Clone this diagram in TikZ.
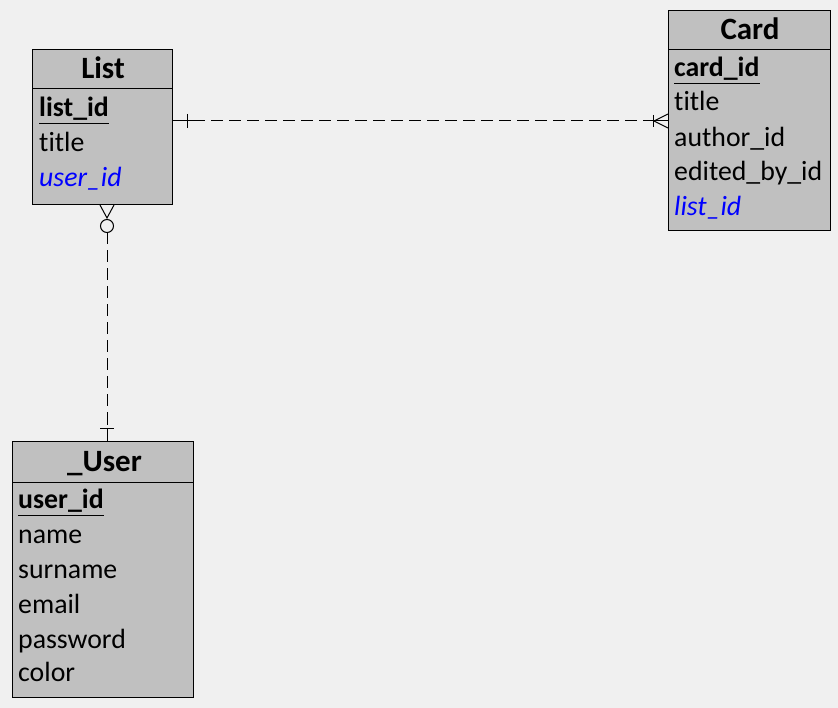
\documentclass[tikz,border=0pt]{standalone}
\usepackage{fontspec}
\setmainfont{Carlito}[Ligatures=NoCommon]
\usetikzlibrary{calc}
\definecolor{bg}{HTML}{F0F0F0}
\definecolor{boxfill}{HTML}{C0C0C0}
\definecolor{fkblue}{RGB}{0,0,255}
\tikzset{
  tbl/.style={draw=black, line width=1pt, fill=boxfill, anchor=north west, inner sep=0pt},
  ttl/.style={anchor=base, inner sep=0pt, font=\fontsize{31}{34}\selectfont\bfseries},
  fld/.style={anchor=base west, inner sep=0pt, font=\fontsize{27.8}{31}\selectfont},
  pk/.style={fld, font=\fontsize{27.8}{31}\selectfont\bfseries},
  fk/.style={fld, font=\fontsize{27.8}{31}\selectfont\itshape, text=fkblue},
  rel/.style={draw=black, line width=1pt, dash pattern=on 12pt off 6pt},
  plainline/.style={draw=black, line width=1pt}
}
\begin{document}
\begin{tikzpicture}[x=1pt,y=-1pt]
\fill[bg] (0,0) rectangle (838,708);
\useasboundingbox (0,0) rectangle (838,708);

% List table
\node[tbl, minimum width=140pt, minimum height=155pt] (list) at (32,49) {};
\draw[plainline] ($(list.north west)+(0,40)$) -- ($(list.north east)+(0,40)$);
\node[ttl] (listT) at (103,79) {List};
\node[pk] (listA) at (39,116.7) {list\_id};
\draw[plainline] ($(listA.base west)+(0,6.5)$) -- ($(listA.base east)+(0,6.5)$);
\node[fld] (listB) at (39,151.3) {title};
\node[fk] (listC) at (39,186.3) {user\_id};

% Card table
\node[tbl, minimum width=162pt, minimum height=220pt] (card) at (668,10) {};
\draw[plainline] ($(card.north west)+(0,39.5)$) -- ($(card.north east)+(0,39.5)$);
\node[ttl] (cardT) at (750,39.5) {Card};
\node[pk] (cardA) at (674,76.3) {card\_id};
\draw[plainline] ($(cardA.base west)+(0,7)$) -- ($(cardA.base east)+(0,7)$);
\node[fld] (cardB) at (674,111) {title};
\node[fld] (cardC) at (674,146.3) {author\_id};
\node[fld] (cardD) at (674,181) {edited\_by\_id};
\node[fk] (cardE) at (674,215.3) {list\_id};

% User table
\node[tbl, minimum width=181pt, minimum height=256pt] (user) at (12,441) {};
\draw[plainline] ($(user.north west)+(0,41)$) -- ($(user.north east)+(0,41)$);
\node[ttl] (userT) at (104.5,471.7) {\_User};
\node[pk] (userA) at (18,508.3) {user\_id};
\draw[plainline] ($(userA.base west)+(0,6.7)$) -- ($(userA.base east)+(0,6.7)$);
\node[fld] (userB) at (18,543.3) {name};
\node[fld] (userC) at (18,578.3) {surname};
\node[fld] (userD) at (18,613) {email};
\node[fld] (userE) at (18,648) {password};
\node[fld] (userF) at (18,681.7) {color};

% List -- Card relationship (one to many)
\coordinate (lcS) at ($(list.north east)+(0,72)$);
\coordinate (lcE) at ($(card.north west)+(0,111)$);
\draw[plainline] (lcS) -- ($(lcS)+(20,0)$);
\draw[rel] ($(lcS)+(20,0)$) -- ($(lcE)+(-14,0)$);
\draw[plainline] ($(lcE)+(-16,0)$) -- (lcE);
\draw[plainline] ($(lcS)+(14,-7)$) -- ($(lcS)+(14,7)$);
\draw[plainline] ($(lcE)+(-15,-6)$) -- ($(lcE)+(-15,6)$);
\draw[plainline] ($(lcE)+(-14,0)$) -- ($(lcE)+(0,-7)$);
\draw[plainline] ($(lcE)+(-14,0)$) -- ($(lcE)+(0,7)$);

% List -- User relationship (zero-or-many to one)
\coordinate (luS) at ($(list.south west)+(75,0)$);
\coordinate (luE) at ($(user.north west)+(95,0)$);
\draw[plainline] ($(luS)+(-7,0)$) -- ($(luS)+(0,13)$) -- ($(luS)+(7,0)$);
\draw[plainline] ($(luS)+(0,21)$) circle[radius=6.5pt];
\draw[rel] ($(luS)+(0,27.5)$) -- ($(luE)+(0,-13)$);
\draw[plainline] ($(luE)+(0,-13)$) -- (luE);
\draw[plainline] ($(luE)+(-7,-13)$) -- ($(luE)+(7,-13)$);
\end{tikzpicture}
\end{document}
